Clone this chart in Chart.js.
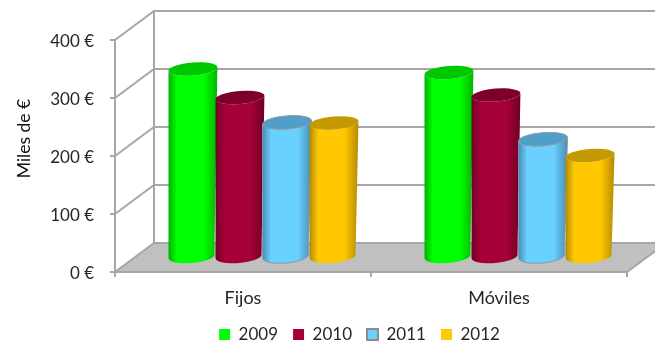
<!DOCTYPE html>
<html>
<head>
<meta charset="utf-8">
<title>Miles de €</title>
<script src="https://cdn.jsdelivr.net/npm/chart.js@4"></script>
<style>
  html, body { margin: 0; padding: 0; background: #fff; }
  canvas { display: block; filter: blur(0.45px); }
</style>
</head>
<body>
<canvas id="chart" width="655" height="342"></canvas>
<script>
  const categories = ["Fijos", "Móviles"];
  const years = ["2009", "2010", "2011", "2012"];
  const values2009 = [325, 319];
  const values2010 = [276, 280];
  const values2011 = [233, 204];
  const values2012 = [232, 176];
  const yTicks = [0, 100, 200, 300, 400];
  const yTitle = "Miles de €";

  // main, edge and top colours of each cylinder
  const main = ["#00ff00", "#a50038", "#6ad0ff", "#ffc800"];
  const edge = ["#00b400", "#6c0026", "#4a8db3", "#b38a00"];
  const lid = ["#00c800", "#7c002a", "#4f9fc8", "#c49a00"];
  const wallColor = "#a6a6a6";
  const textColor = "#262626";

  // the 3D box: back wall sits this far from the front axes, bars stand half way
  const depthX = 39, depthY = -29;

  const box3d = {
    id: "box3d",
    // legend sits off centre in the original
    afterLayout(chart) {
      const l = chart.legend;
      l.left += 46;
      l.right += 46;
      l.top -= 7;
      l.bottom -= 7;
    },
    beforeDraw(chart) {
      const c = chart.ctx, x = chart.scales.x, y = chart.scales.y;
      const x0 = x.left, x1 = x.right, y0 = y.getPixelForValue(0);
      c.save();
      c.fillStyle = "#c0c0c0";
      c.beginPath();
      c.moveTo(x0, y0);
      c.lineTo(x1, y0);
      c.lineTo(x1 + depthX, y0 + depthY);
      c.lineTo(x0 + depthX, y0 + depthY);
      c.closePath();
      c.fill();

      c.strokeStyle = wallColor;
      c.lineWidth = 2;
      yTicks.forEach(v => {
        const py = y.getPixelForValue(v);
        c.beginPath();
        c.moveTo(x0, py);
        c.lineTo(x0 + depthX, py + depthY);
        c.lineTo(x1 + depthX, py + depthY);
        c.stroke();
      });
      c.beginPath();
      c.moveTo(x0 + depthX, y.getPixelForValue(400) + depthY);
      c.lineTo(x0 + depthX, y0 + depthY);
      c.moveTo(x1, y0);
      c.lineTo(x1 + depthX, y0 + depthY);
      c.stroke();
      c.restore();
    },
    // the default flat bars are replaced by cylinders below
    beforeDatasetDraw() {
      return false;
    },
    afterDatasetsDraw(chart) {
      const c = chart.ctx;
      chart.data.datasets.forEach((ds, i) => {
        chart.getDatasetMeta(i).data.forEach(bar => {
          drawCylinder(c, bar, i);
        });
      });
    },
    afterDraw(chart) {
      // axis title, centred on the back wall rather than the front axis
      const c = chart.ctx, y = chart.scales.y;
      c.save();
      c.translate(24, (y.top + y.bottom + depthY) / 2 - 3);
      c.rotate(-Math.PI / 2);
      c.textAlign = "center";
      c.textBaseline = "middle";
      c.fillStyle = "#111";
      c.font = "17.5px Lato";
      c.fillText(yTitle, 0, 0);
      c.restore();
    }
  };

  function drawCylinder(c, bar, i) {
    const r = bar.width / 2 + 1;
    const cx = bar.x + depthX / 2 + 1;
    const topY = bar.y + depthY / 2;
    const baseY = bar.base + depthY / 2;
    const tilt = -0.08, ry = 6.5;
    const baseR = r - 1.5;
    const baseX = cx - 1.5;

    const g = c.createLinearGradient(cx - r, 0, cx + r, 0);
    g.addColorStop(0, edge[i]);
    g.addColorStop(0.18, main[i]);
    g.addColorStop(0.72, main[i]);
    g.addColorStop(1, edge[i]);

    c.save();
    c.fillStyle = g;
    c.strokeStyle = "#8a9aa6";
    c.lineWidth = 1;
    c.beginPath();
    c.ellipse(cx, topY, r, ry, tilt, Math.PI, 0, true);
    c.ellipse(baseX, baseY, baseR, ry, tilt, 0, Math.PI, false);
    c.closePath();
    c.fill();
    if (i === 2) c.stroke();

    c.fillStyle = lid[i];
    c.beginPath();
    c.ellipse(cx, topY, r, ry, tilt, 0, Math.PI * 2);
    c.fill();
    if (i === 2) c.stroke();
    c.restore();
  }

  new Chart(document.getElementById("chart"), {
    type: "bar",
    data: {
      labels: categories,
      datasets: [values2009, values2010, values2011, values2012].map((data, i) => ({
        label: years[i],
        data,
        backgroundColor: main[i],
        borderColor: i === 2 ? "#8c8c8c" : main[i],
        borderWidth: i === 2 ? 2 : 0,
        categoryPercentage: 0.735,
        barPercentage: 1
      }))
    },
    options: {
      responsive: false,
      animation: false,
      layout: { padding: { top: 40, right: 28, left: 0, bottom: -18 } },
      plugins: {
        tooltip: { enabled: false },
        legend: {
          position: "bottom",
          labels: {
            boxWidth: 11,
            boxHeight: 11,
            padding: 15,
            color: textColor,
            font: { family: "Lato", size: 17 }
          }
        }
      },
      scales: {
        x: {
          afterFit: s => { s.height = 46; },
          border: { color: wallColor, width: 2 },
          grid: { drawOnChartArea: false, color: wallColor, lineWidth: 2, tickLength: 5 },
          ticks: { color: textColor, padding: 10, font: { family: "Lato", size: 18 } }
        },
        y: {
          min: 0,
          max: 400,
          afterFit: s => { s.width = 115; },
          border: { color: wallColor, width: 2 },
          grid: { drawOnChartArea: false, color: wallColor, lineWidth: 2, tickLength: 5 },
          ticks: {
            stepSize: 100,
            padding: 16,
            labelOffset: 2,
            color: textColor,
            font: { family: "Lato", size: 17 },
            callback: v => v + " €"
          }
        }
      }
    },
    plugins: [box3d]
  });
</script>
</body>
</html>
